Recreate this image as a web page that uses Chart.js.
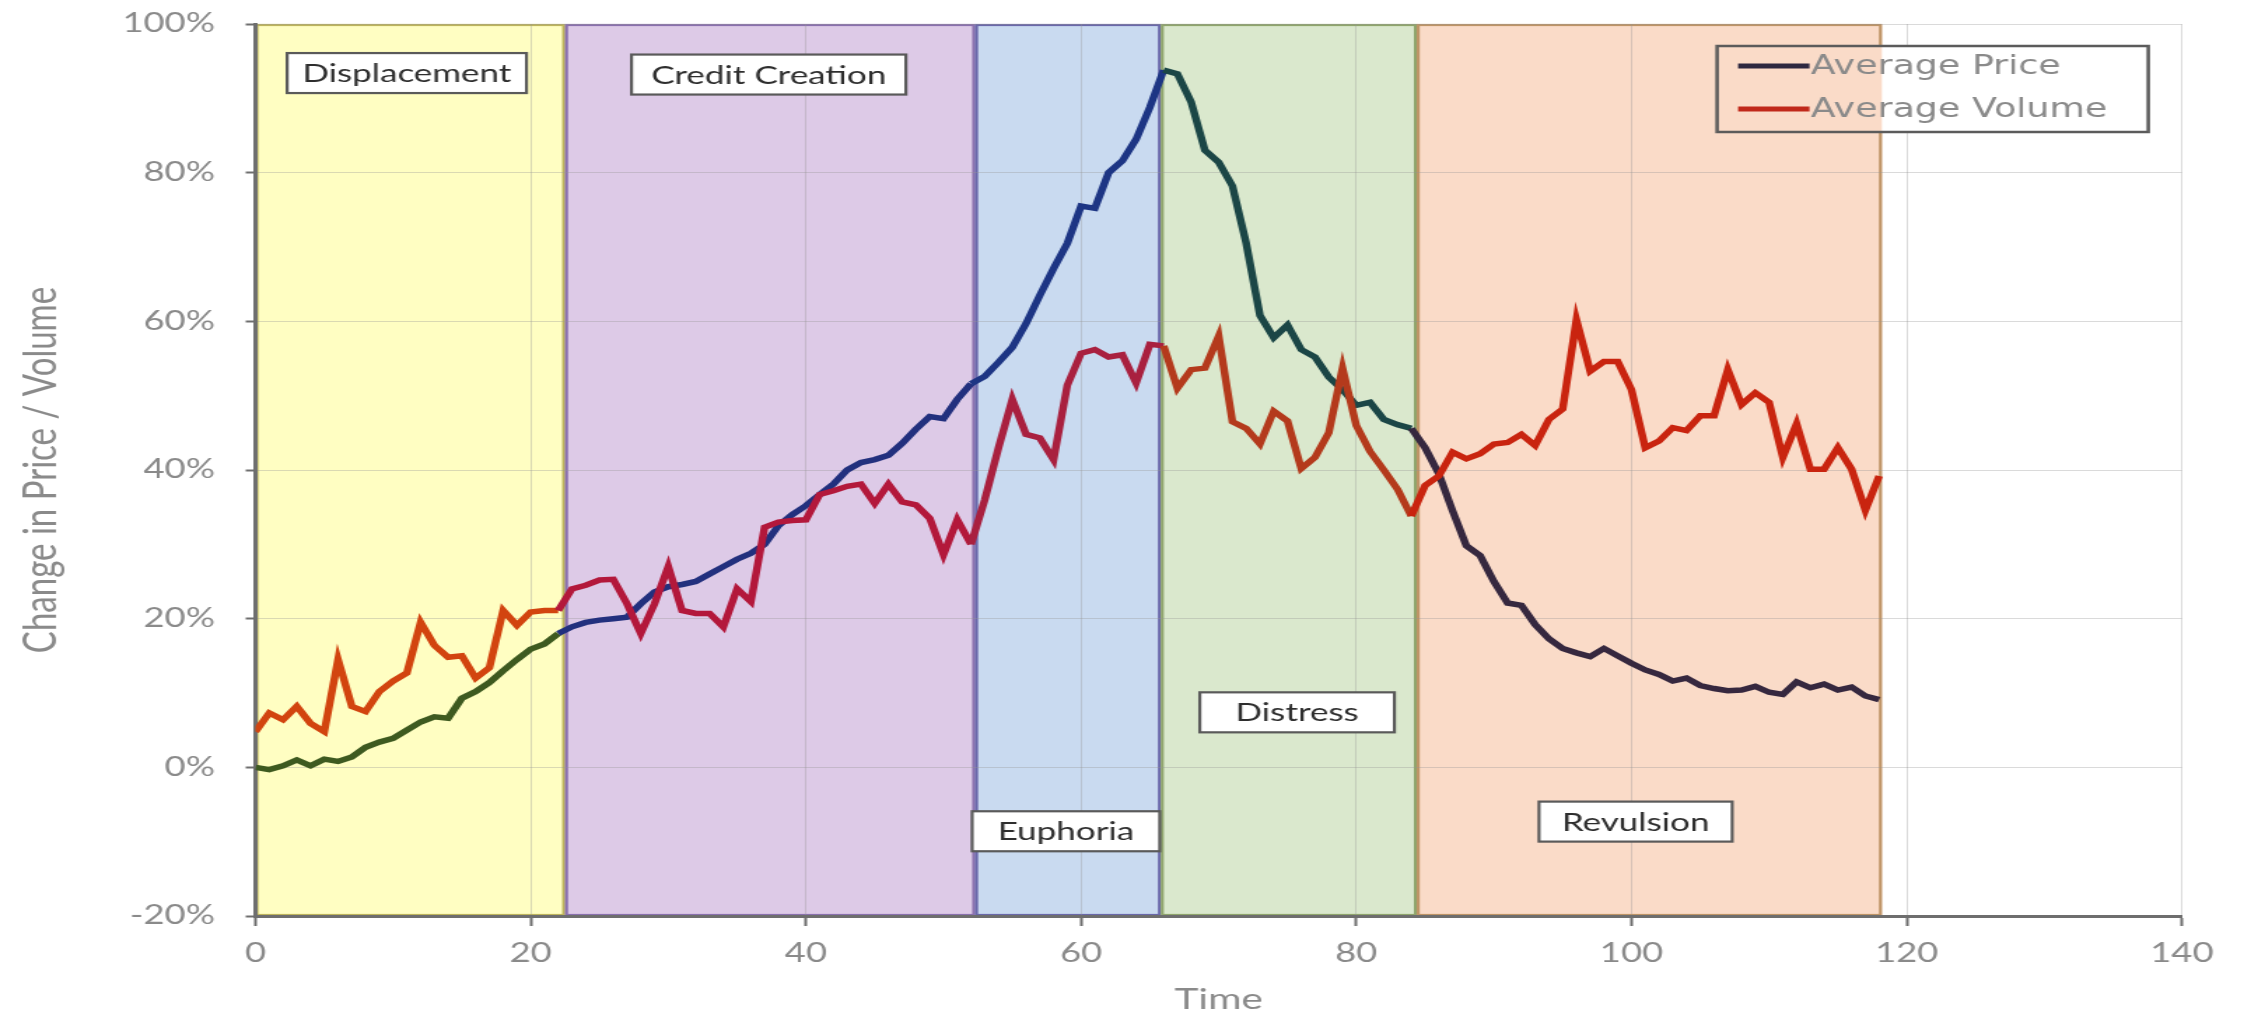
<!DOCTYPE html>
<html>
<head>
<meta charset="utf-8">
<title>Bubble phases: average price and volume</title>
<script src="https://cdn.jsdelivr.net/npm/chart.js@4.4.1/dist/chart.umd.min.js"></script>
<style>
  html, body { margin: 0; padding: 0; background: #fff; overflow: hidden; }
  #phaseChart { display: block; }
</style>
</head>
<body>
<!-- the original picture is stretched sideways, so the canvas bitmap is too (inline style keeps Chart.js from resetting it) -->
<canvas id="phaseChart" width="1608" height="1020" style="width:2251px;height:1020px"></canvas>
<script>
// Values (time step -> % change)
const timeSteps = [
  0, 1, 2, 3, 4, 5, 6, 7, 8, 9, 10, 11, 12, 13, 14, 15, 16, 17, 18, 19,
  20, 21, 22, 23, 24, 25, 26, 27, 28, 29, 30, 31, 32, 33, 34, 35, 36, 37, 38, 39,
  40, 41, 42, 43, 44, 45, 46, 47, 48, 49, 50, 51, 52, 53, 54, 55, 56, 57, 58, 59,
  60, 61, 62, 63, 64, 65, 66, 67, 68, 69, 70, 71, 72, 73, 74, 75, 76, 77, 78, 79,
  80, 81, 82, 83, 84, 85, 86, 87, 88, 89, 90, 91, 92, 93, 94, 95, 96, 97, 98, 99,
  100, 101, 102, 103, 104, 105, 106, 107, 108, 109, 110, 111, 112, 113, 114, 115, 116, 117, 118
];

const avgPrice = [
  0, -0.3, 0.2, 1.0, 0.2, 1.1, 0.8, 1.4, 2.7, 3.4,
  3.9, 5.0, 6.1, 6.8, 6.6, 9.3, 10.2, 11.4, 13.0, 14.5,
  15.9, 16.6, 18.0, 18.9, 19.5, 19.8, 20.0, 20.2, 22.0, 23.6,
  24.3, 24.6, 25.0, 26.0, 27.0, 28.0, 28.8, 30.0, 32.5, 34.0,
  35.2, 36.7, 38.1, 40.0, 41.0, 41.4, 42.0, 43.6, 45.5, 47.2,
  46.9, 49.5, 51.6, 52.6, 54.5, 56.5, 59.7, 63.5, 67.1, 70.5,
  75.5, 75.2, 80.0, 81.6, 84.5, 88.8, 93.8, 93.3, 89.5, 83.0,
  81.4, 78.2, 70.5, 60.8, 57.8, 59.5, 56.2, 55.2, 52.5, 50.8,
  48.7, 49.1, 46.8, 46.1, 45.6, 43.0, 39.5, 34.5, 29.8, 28.5,
  25.0, 22.1, 21.8, 19.2, 17.3, 16.0, 15.4, 14.9, 16.0, 15.0,
  14.0, 13.1, 12.5, 11.6, 12.0, 11.0, 10.6, 10.3, 10.4, 10.9,
  10.1, 9.8, 11.5, 10.7, 11.2, 10.4, 10.8, 9.6, 9.1
];

const avgVolume = [
  4.8, 7.3, 6.4, 8.2, 5.9, 4.8, 14.5, 8.2, 7.5, 10.2,
  11.6, 12.7, 19.5, 16.4, 14.8, 15.0, 12.0, 13.4, 21.1, 19.1,
  20.9, 21.1, 21.1, 24.0, 24.5, 25.2, 25.3, 22.0, 18.0, 22.0,
  27.0, 21.1, 20.7, 20.7, 18.9, 24.0, 22.3, 32.3, 33.0, 33.2,
  33.3, 36.7, 37.2, 37.8, 38.1, 35.5, 38.1, 35.7, 35.3, 33.5,
  28.6, 33.3, 30.0, 36.0, 43.0, 49.5, 44.8, 44.3, 41.4, 51.4,
  55.7, 56.2, 55.2, 55.5, 51.7, 56.9, 56.7, 51.0, 53.5, 53.7,
  58.0, 46.5, 45.6, 43.5, 47.9, 46.6, 40.2, 41.7, 45.0, 53.7,
  46.0, 42.5, 40.0, 37.4, 33.8, 37.9, 39.2, 42.4, 41.5, 42.2,
  43.5, 43.7, 44.8, 43.3, 46.8, 48.2, 60.2, 53.3, 54.6, 54.6,
  50.8, 43.0, 43.9, 45.7, 45.3, 47.3, 47.3, 53.5, 48.8, 50.4,
  49.1, 41.7, 46.2, 40.1, 40.1, 43.0, 40.1, 34.6, 39.2
];

const xTicks = [0, 20, 40, 60, 80, 100, 120, 140];
const yTicks = [-20, 0, 20, 40, 60, 80, 100];

// Bubble phases, as ranges on the time axis
const phaseNames = ["Displacement", "Credit Creation", "Euphoria", "Distress", "Revulsion"];
const phaseStart = [0, 22.5, 52.3, 65.8, 84.4];
const phaseEnd = [22.5, 52.3, 65.8, 84.4, 118.2];

// Styling (kept apart from the data)
const phaseFill = ["#FFFEC2", "#DDCAE7", "#C9DAF0", "#DAE8CD", "#FADBC8"];
const phaseBorder = ["#BDB45C", "#8A70AE", "#6A68AA", "#8FA56C", "#BE9466"];
const priceColors = ["#3E5A20", "#22307E", "#1D3584", "#1B4646", "#36283F"];
const volumeColors = ["#D2440F", "#B3183B", "#A9203F", "#B43A1C", "#C9240F"];
const labelAt = [[11.0, 93.4], [37.3, 93.2], [58.9, -8.6], [75.7, 7.4], [100.3, -7.3]];
const labelWidth = [171, 196, 134, 139, 138];
const gray = "#8a8a8a";

function phaseIndex(x) {
  for (let i = 0; i < phaseEnd.length; i++) {
    if (x < phaseEnd[i]) return i;
  }
  return phaseEnd.length - 1;
}

function segMid(ctx) {
  return (ctx.p0.parsed.x + ctx.p1.parsed.x) / 2;
}

// Phase bands under the grid, then label boxes and legend over the lines
const phasePlugin = {
  id: "phasePlugin",
  beforeDraw(chart) {
    const { ctx, scales: { x, y } } = chart;
    const top = y.getPixelForValue(yTicks[yTicks.length - 1]);
    const bottom = y.getPixelForValue(yTicks[0]);
    ctx.save();
    phaseNames.forEach((name, i) => {
      const left = x.getPixelForValue(phaseStart[i]);
      const right = x.getPixelForValue(phaseEnd[i]);
      ctx.fillStyle = phaseFill[i];
      ctx.fillRect(left, top, right - left, bottom - top);
    });
    ctx.lineWidth = 2.2;
    phaseNames.forEach((name, i) => {
      const left = x.getPixelForValue(phaseStart[i]);
      const right = x.getPixelForValue(phaseEnd[i]);
      ctx.strokeStyle = phaseBorder[i];
      ctx.strokeRect(left + 1, top + 1, right - left - 2, bottom - top - 2);
    });
    ctx.restore();
  },
  afterDatasetsDraw(chart) {
    const { ctx, chartArea, scales: { x, y } } = chart;
    ctx.save();

    // phase labels
    ctx.font = '25px Lato';
    ctx.textAlign = "center";
    ctx.textBaseline = "middle";
    phaseNames.forEach((name, i) => {
      const cx = x.getPixelForValue(labelAt[i][0]);
      const cy = y.getPixelForValue(labelAt[i][1]);
      const w = labelWidth[i], h = 40;
      ctx.fillStyle = "#ffffff";
      ctx.fillRect(cx - w / 2, cy - h / 2, w, h);
      ctx.strokeStyle = "#5a5a5a";
      ctx.lineWidth = 2.2;
      ctx.strokeRect(cx - w / 2, cy - h / 2, w, h);
      ctx.fillStyle = "#2e2e2e";
      ctx.fillText(name, cx, cy + 1);
    });

    // legend box (top right, partly over the last band)
    const box = { left: chartArea.right - 332, top: chartArea.top + 22, width: 308, height: 86 };
    ctx.fillStyle = "#ffffff";
    ctx.fillRect(box.left, box.top, box.width, box.height);
    ctx.save();
    ctx.beginPath();
    ctx.rect(box.left, box.top, box.width, box.height);
    ctx.clip();
    phaseNames.forEach((name, i) => {
      const left = x.getPixelForValue(phaseStart[i]);
      const right = x.getPixelForValue(phaseEnd[i]);
      ctx.fillStyle = phaseFill[i];
      ctx.fillRect(left, box.top, right - left, box.height);
    });
    ctx.restore();

    ctx.font = '26px "DejaVu Sans"';
    ctx.textAlign = "left";
    ctx.textBaseline = "middle";
    const rows = [20, 63];
    chart.data.datasets.forEach((ds, i) => {
      const ry = box.top + rows[i];
      ctx.strokeStyle = ds.borderColor;
      ctx.lineWidth = 5;
      ctx.beginPath();
      ctx.moveTo(box.left + 15, ry);
      ctx.lineTo(box.left + 66, ry);
      ctx.stroke();
      ctx.fillStyle = gray;
      ctx.fillText(ds.label, box.left + 67, ry + 1);
    });
    ctx.strokeStyle = "#5b5b5b";
    ctx.lineWidth = 2.5;
    ctx.strokeRect(box.left, box.top, box.width, box.height);

    ctx.restore();
  }
};

const priceData = timeSteps.map((t, i) => ({ x: t, y: avgPrice[i] }));
const volumeData = timeSteps.map((t, i) => ({ x: t, y: avgVolume[i] }));

new Chart(document.getElementById("phaseChart"), {
  type: "line",
  data: {
    datasets: [
      {
        label: "Average Price",
        data: priceData,
        borderColor: "#2E2840",
        borderWidth: 5.5,
        pointRadius: 0,
        tension: 0,
        order: 1,
        segment: { borderColor: (ctx) => priceColors[phaseIndex(segMid(ctx))] }
      },
      {
        label: "Average Volume",
        data: volumeData,
        borderColor: "#C0281A",
        borderWidth: 5.5,
        pointRadius: 0,
        tension: 0,
        order: 0,
        segment: { borderColor: (ctx) => volumeColors[phaseIndex(segMid(ctx))] }
      }
    ]
  },
  options: {
    responsive: false,
    devicePixelRatio: 1,
    animation: false,
    layout: { autoPadding: false, padding: { top: 24, right: 49.4, bottom: 0, left: 0 } },
    plugins: {
      legend: { display: false },
      tooltip: { enabled: false }
    },
    scales: {
      x: {
        type: "linear",
        min: xTicks[0],
        max: xTicks[xTicks.length - 1],
        afterBuildTicks: (s) => { s.ticks = xTicks.map((v) => ({ value: v })); },
        afterFit: (s) => { s.height = 104; },
        grid: { color: "rgba(150,150,150,0.35)", lineWidth: 1, tickColor: "#6e6e6e", tickLength: 10, tickWidth: 2 },
        border: { display: true, color: "#6e6e6e", width: 3 },
        ticks: { color: gray, font: { family: "Lato", size: 26 }, padding: 12, maxRotation: 0 },
        title: { display: true, text: "Time", color: gray, font: { family: "Lato", size: 29 }, padding: { top: 0, bottom: 3 } }
      },
      y: {
        min: yTicks[0],
        max: yTicks[yTicks.length - 1],
        afterBuildTicks: (s) => { s.ticks = yTicks.map((v) => ({ value: v })); },
        // fixed axis width; tick-label overhang must not push the plot top down
        afterFit: (s) => { s.width = 182.5; s.paddingTop = 0; s.paddingBottom = 0; },
        grid: { color: "rgba(150,150,150,0.35)", lineWidth: 1, tickColor: "#6e6e6e", tickLength: 7, tickWidth: 2 },
        border: { display: true, color: "#6e6e6e", width: 3 },
        ticks: { color: gray, font: { family: "Lato", size: 26, lineHeight: 0.1 }, padding: 22, callback: (v) => v + "%" },
        title: { display: true, text: "Change in Price / Volume", color: gray, font: { family: "Lato", size: 33 }, padding: { top: 10, bottom: 0 } }
      }
    }
  },
  plugins: [phasePlugin]
});
</script>
</body>
</html>
